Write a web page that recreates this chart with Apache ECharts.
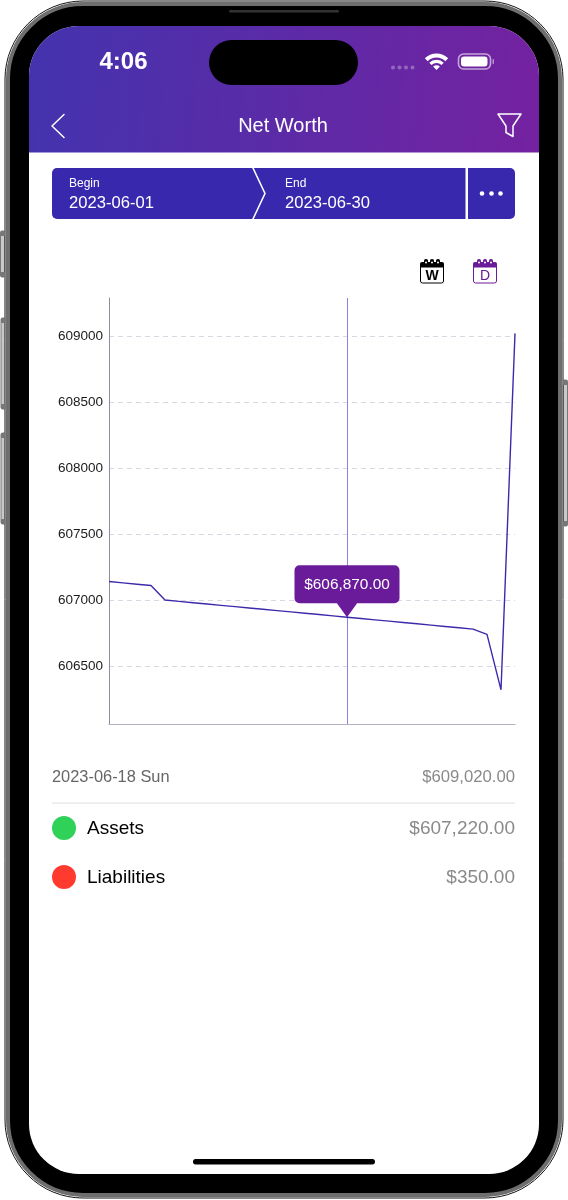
<!DOCTYPE html>
<html>
<head>
<meta charset="utf-8">
<script src="https://cdn.jsdelivr.net/npm/echarts@6/dist/echarts.min.js"></script>
<style>
html,body{margin:0;padding:0;background:#fff;}
#main{width:568px;height:1200px;}
</style>
</head>
<body>
<div id="main"></div>
<script>
var days = ['06-01','06-02','06-03','06-04','06-05','06-06','06-07','06-08','06-09','06-10',
    '06-11','06-12','06-13','06-14','06-15','06-16','06-17','06-18','06-19','06-20',
    '06-21','06-22','06-23','06-24','06-25','06-26','06-27','06-28','06-29','06-30'];
var netWorth = [607140,607130,607120,607110,607000,606990,606980,606970,606960,606950,
    606940,606930,606920,606910,606900,606890,606880,606870,606860,606850,
    606840,606830,606820,606810,606800,606790,606780,606740,606320,609020];
var yTicks = [606500,607000,607500,608000,608500,609000];
var selectedDay = '06-18';
var selectedValue = 606870;
var rows = [
    {name:'Assets', value:'$607,220.00', color:'#30d158'},
    {name:'Liabilities', value:'$350.00', color:'#ff3b30'}
];
var FONT = '"Liberation Sans", Arial, sans-serif';
var PURPLE = '#6a1b9a';

function txt(x, y, s, size, color, align, weight){
    return {type:'text', x:x, y:y, z:20, style:{text:s, fontSize:size, fill:color, fontWeight:weight||'normal',
        fontFamily:FONT, align:align||'left', verticalAlign:'middle'}};
}
function rect(x, y, w, h, r, fill, z){
    return {type:'rect', z:z||10, shape:{x:x,y:y,width:w,height:h,r:r}, style:{fill:fill}};
}
function circle(cx, cy, r, fill){
    return {type:'circle', z:20, shape:{cx:cx,cy:cy,r:r}, style:{fill:fill}};
}
function poly(points, color, w){
    return {type:'polyline', z:20, shape:{points:points},
        style:{stroke:color, lineWidth:w, fill:null, lineJoin:'round', lineCap:'round'}};
}
function wifiBand(r0, r){
    return {type:'sector', z:20, shape:{cx:436.5,cy:70,r0:r0,r:r,startAngle:-Math.PI*0.75,endAngle:-Math.PI*0.25},
        style:{fill:'#fff'}};
}
function sideButton(x, y, h){
    return [
        {type:'rect', z:0, shape:{x:x,y:y,width:4.5,height:h,r:1.5}, style:{fill:'#c9c9c9',stroke:'#777',lineWidth:1}},
        rect(x, y, 4.5, 5, 1, '#777', 0),
        rect(x, y+h-5, 4.5, 5, 1, '#777', 0)
    ];
}
// calendar icon at the top right
function calIcon(x, color, letter, size, weight){
    return [
        {type:'rect', z:20, shape:{x:x+.5,y:263,width:23,height:20,r:2}, style:{fill:'#fff',stroke:color,lineWidth:1}},
        rect(x, 262, 24, 5.5, [2,2,0,0], color, 21),
        rect(x+4, 259, 4, 4, 1.8, color, 22),
        rect(x+10, 259, 4, 4, 1.8, color, 22),
        rect(x+16, 259, 4, 4, 1.8, color, 22),
        {type:'circle', z:23, shape:{cx:x+6,cy:262.5,r:1}, style:{fill:'#fff'}},
        {type:'circle', z:23, shape:{cx:x+12,cy:262.5,r:1}, style:{fill:'#fff'}},
        {type:'circle', z:23, shape:{cx:x+18,cy:262.5,r:1}, style:{fill:'#fff'}},
        txt(x+12, 276.5, letter, size, color, 'center', weight)
    ];
}

var chrome = [
    // phone body, rings from the outside in
    {type:'rect', z:1, shape:{x:5,y:1,width:558,height:1197,r:78}, style:{fill:'#fff',stroke:'#111',lineWidth:1}},
    {type:'rect', z:2, shape:{x:8,y:4,width:552,height:1191,r:75}, style:{fill:'#000',stroke:'#6e6e6e',lineWidth:4}},
    rect(29, 26, 510, 1148, 50, '#fff', 3),
    // header gradient
    {type:'rect', z:4, shape:{x:29,y:26,width:510,height:126.5,r:[50,50,0,0]},
        style:{fill:new echarts.graphic.LinearGradient(0,0.35,1,0.65,[{offset:0,color:'#4433ae'},{offset:1,color:'#7422a0'}])}},
    rect(209, 40, 149, 45, 22.5, '#000', 6),
    rect(229, 10, 110, 2.5, 1.2, '#333', 6),
    rect(193, 1159, 182, 5.5, 2.7, '#000', 6),
    txt(123.5, 62, '4:06', 24, '#fff', 'center', 'bold'),
    // wifi
    wifiBand(12.5, 16.5),
    wifiBand(7, 10.3),
    wifiBand(0, 4.8),
    // battery
    {type:'rect', z:20, shape:{x:458.5,y:54,width:32,height:15,r:5}, style:{fill:'none',stroke:'rgba(255,255,255,.6)',lineWidth:1.6}},
    rect(461, 56.5, 26.5, 10, 3, '#fff', 21),
    rect(492.5, 59, 1.5, 5, 0.7, 'rgba(255,255,255,.5)', 21),
    // signal dots
    circle(393, 67.5, 2, 'rgba(255,255,255,.3)'),
    circle(399.5, 67.5, 2, 'rgba(255,255,255,.3)'),
    circle(406, 67.5, 2, 'rgba(255,255,255,.3)'),
    circle(412.5, 67.5, 2, 'rgba(255,255,255,.3)'),
    // nav bar
    poly([[64,114.5],[52,126],[64,137.5]], '#fff', 1.5),
    txt(283, 126, 'Net Worth', 20, '#fff', 'center'),
    {type:'polygon', z:20, shape:{points:[[498,114],[521,114],[513,126],[513,136.5],[506,132.5],[506,126]]},
        style:{stroke:'#fff', lineWidth:1.5, fill:null, lineJoin:'round'}},
    // date range bar
    rect(52, 168, 463, 51, 5, '#3828ae', 10),
    poly([[253,168],[265,193.5],[253,219]], '#fff', 1.6),
    rect(465.5, 168, 2.5, 51, 0, '#fff', 20),
    txt(69, 184, 'Begin', 12, '#fff'),
    txt(69, 203.5, '2023-06-01', 16.6, '#fff'),
    txt(285, 184, 'End', 12, '#fff'),
    txt(285, 203.5, '2023-06-30', 16.6, '#fff'),
    circle(482, 193.5, 2.3, '#fff'),
    circle(491.5, 193.5, 2.3, '#fff'),
    circle(500.5, 193.5, 2.3, '#fff'),
    // summary under the chart
    txt(52, 777.5, '2023-06-18 Sun', 16.4, '#666'),
    txt(515, 777.5, '$609,020.00', 16.7, '#8a8a8a', 'right'),
    rect(52, 802.5, 463, 1.2, 0, '#e6e6e6', 10)
].concat(
    sideButton(0.5, 231, 46), sideButton(1, 318, 91), sideButton(1, 433, 91), sideButton(563, 380, 146),
    calIcon(420, '#000', 'W', 14, 'bold'), calIcon(473, PURPLE, 'D', 14, 'normal')
);

rows.forEach(function(r, i){
    var y = 828.5 + i*49;
    chrome.push(circle(64, y - 0.5, 12, r.color));
    chrome.push(txt(87, y, r.name, 19, '#000'));
    chrome.push(txt(515, y, r.value, 19, '#8a8a8a', 'right'));
});

var myChart = echarts.init(document.getElementById('main'));
var option = {
    animation: false,
    textStyle: {fontFamily: FONT},
    graphic: {elements: chrome},
    grid: {left:109, right:53, top:298, bottom:476},
    xAxis: {
        type: 'category',
        z: 5,
        data: days,
        boundaryGap: false,
        axisLine: {show:true, lineStyle:{color:'#b4b2c4', width:1.2}},
        axisTick: {show:false},
        axisLabel: {show:false},
        splitLine: {show:false}
    },
    yAxis: {
        type: 'value',
        z: 5,
        min: 606061,
        max: 609288,
        axisLine: {show:true, lineStyle:{color:'#8f8d99', width:1}},
        axisTick: {show:false},
        axisLabel: {customValues:yTicks, color:'#1a1a1a', fontSize:13.5, margin:6, fontFamily:FONT,
            formatter: function(v){ return String(v); }},
        splitLine: {show:true, showMinLine:false, showMaxLine:false, lineStyle:{color:'#d9d8e2', type:[5,4], width:1}}
    },
    series: [{
        type: 'line',
        z: 30,
        data: netWorth,
        symbol: 'none',
        lineStyle: {color:'#3b2bab', width:1.4},
        markLine: {
            silent: true,
            symbol: 'none',
            label: {show:false},
            lineStyle: {color:'#8a82e0', width:1, type:'solid', opacity:1},
            data: [{xAxis: selectedDay}]
        },
        markPoint: {
            silent: true,
            // tooltip bubble with its pointer on the selected day
            symbol: 'path://M5 0H99A5 5 0 0 1 104 5V33A5 5 0 0 1 99 38H62L52 52L42 38H5A5 5 0 0 1 0 33V5A5 5 0 0 1 5 0Z',
            symbolSize: [105, 52],
            symbolOffset: [0, -26],
            itemStyle: {color: PURPLE},
            label: {show:true, formatter:'$606,870.00', color:'#fff', fontSize:15.4, fontFamily:FONT, position:'inside', offset:[0,-6]},
            data: [{coord:[selectedDay, selectedValue]}]
        }
    }]
};
myChart.setOption(option);
</script>
</body>
</html>
